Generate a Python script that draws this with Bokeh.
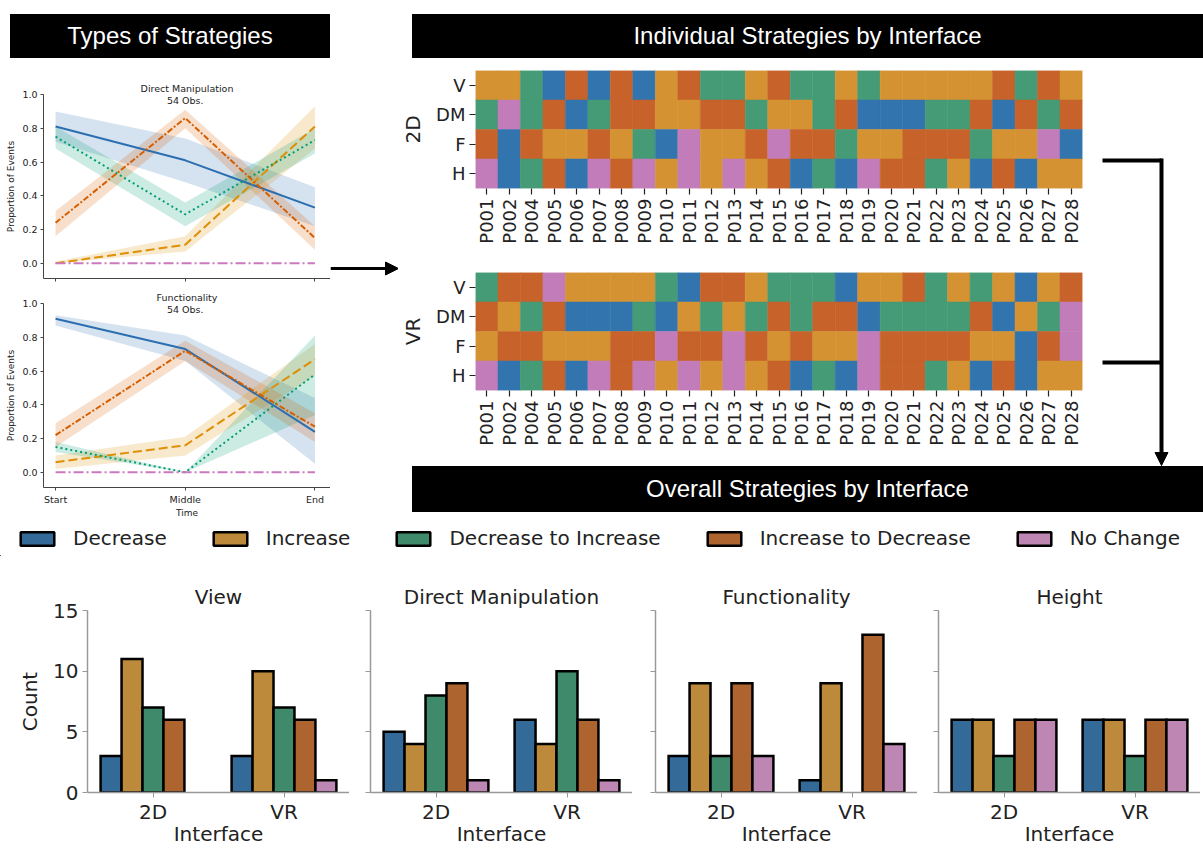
import math
from bokeh.plotting import figure
from bokeh.layouts import row, column
from bokeh.models import (Div, Spacer, ColumnDataSource, FactorRange, Range1d, FixedTicker,
                          PrintfTickFormatter, Label, Arrow, NormalHead, Legend, LegendItem, Title,
                          BoxAnnotation)
from bokeh.transform import dodge
from bokeh.embed import file_html
from bokeh.resources import INLINE

FONT = "DejaVu Sans"
BANNER_FONT = "Liberation Sans"

# ---------------- data ----------------
strategies = ["Decrease", "Increase", "Decrease to Increase", "Increase to Decrease", "No Change"]
codes = ["D", "I", "G", "R", "N"]
heat_colors = ["#3274AE", "#D49232", "#449B75", "#C6622A", "#C17CB9"]
bar_colors = ["#336A98", "#BC8A3A", "#3F8A6B", "#AD642F", "#BD86B3"]
line_colors = ["#2B6FB0", "#DE8F05", "#029E73", "#D55E00", "#CC78BC"]
line_dashes = ["solid", "9 4", "2 3", "6 2 2 2", "10 3 2 3"]

time_labels = ["Start", "Middle", "End"]

# Direct Manipulation: mean and confidence band per strategy
dm_mean = [[0.81, 0.61, 0.33], [0.00, 0.11, 0.81], [0.75, 0.29, 0.73], [0.24, 0.86, 0.15], [0.0, 0.0, 0.0]]
dm_lo = [[0.72, 0.48, 0.22], [0.00, 0.07, 0.68], [0.68, 0.22, 0.65], [0.16, 0.80, 0.08], [0.0, 0.0, 0.0]]
dm_hi = [[0.90, 0.74, 0.45], [0.01, 0.16, 0.93], [0.81, 0.36, 0.80], [0.31, 0.91, 0.22], [0.0, 0.0, 0.0]]

# Functionality
fn_mean = [[0.91, 0.73, 0.24], [0.06, 0.16, 0.67], [0.15, 0.00, 0.58], [0.22, 0.72, 0.27], [0.0, 0.0, 0.0]]
fn_lo = [[0.87, 0.66, 0.05], [0.02, 0.10, 0.57], [0.12, 0.00, 0.34], [0.15, 0.66, 0.18], [0.0, 0.0, 0.0]]
fn_hi = [[0.93, 0.81, 0.44], [0.10, 0.21, 0.76], [0.18, 0.00, 0.81], [0.29, 0.78, 0.35], [0.0, 0.0, 0.0]]

participants = ["P001", "P002", "P004", "P005", "P006", "P007", "P008", "P009", "P010",
                "P011", "P012", "P013", "P014", "P015", "P016", "P017", "P018", "P019",
                "P020", "P021", "P022", "P023", "P024", "P025", "P026", "P027", "P028"]
row_names = ["V", "DM", "F", "H"]

# D=Decrease, I=Increase, G=Decrease to Increase, R=Increase to Decrease, N=No Change
h2d_V = ["I", "I", "G", "D", "R", "D", "R", "D", "I", "R", "G", "G", "I", "R", "G", "G", "I", "G", "I", "I", "I", "I", "I", "R", "G", "R", "I"]
h2d_DM = ["G", "N", "G", "R", "D", "G", "R", "R", "I", "I", "R", "R", "G", "I", "I", "G", "R", "D", "D", "D", "G", "G", "R", "D", "R", "G", "R"]
h2d_F = ["R", "D", "R", "I", "I", "R", "I", "G", "D", "N", "I", "I", "R", "N", "R", "R", "G", "I", "I", "R", "R", "R", "G", "I", "I", "N", "D"]
h2d_H = ["N", "D", "G", "R", "D", "N", "R", "N", "I", "N", "I", "N", "I", "R", "D", "G", "D", "N", "R", "R", "G", "I", "D", "R", "D", "I", "I"]

hvr_V = ["G", "R", "R", "N", "I", "I", "I", "I", "G", "D", "R", "R", "I", "G", "G", "G", "D", "I", "I", "R", "G", "I", "G", "I", "D", "I", "R"]
hvr_DM = ["R", "I", "G", "R", "D", "D", "D", "G", "D", "I", "G", "I", "G", "R", "G", "R", "R", "D", "G", "G", "G", "G", "R", "D", "I", "G", "N"]
hvr_F = ["I", "R", "R", "I", "I", "I", "R", "R", "N", "R", "R", "N", "R", "I", "R", "I", "I", "N", "R", "R", "R", "R", "I", "I", "D", "R", "N"]
hvr_H = ["N", "D", "G", "R", "D", "N", "R", "N", "I", "N", "I", "N", "I", "R", "D", "G", "D", "N", "R", "R", "G", "I", "D", "R", "D", "I", "I"]

interfaces = ["2D", "VR"]
bar_titles = ["View", "Direct Manipulation", "Functionality", "Height"]
# counts per strategy (Decrease, Increase, Dec->Inc, Inc->Dec, No Change)
view_2d = [3, 11, 7, 6, 0]
view_vr = [3, 10, 7, 6, 1]
dm_2d = [5, 4, 8, 9, 1]
dm_vr = [6, 4, 10, 6, 1]
func_2d = [3, 9, 3, 9, 3]
func_vr = [1, 9, 0, 13, 4]
height_2d = [6, 6, 3, 6, 6]
height_vr = [6, 6, 3, 6, 6]
count_ticks = [0, 5, 10, 15]


# ---------------- helpers ----------------
def banner(text, width, height):
    return Div(text=text, width=width, height=height, margin=0,
               styles={"background-color": "black", "color": "white",
                       "font-size": "24px", "font-family": BANNER_FONT,
                       "text-align": "center", "line-height": f"{height}px"})


def blank_fig(width, height, transparent=True):
    p = figure(width=width, height=height, x_range=Range1d(0, width), y_range=Range1d(0, height),
               min_border=0, toolbar_location=None, output_backend="svg",
               x_axis_location=None, y_axis_location=None, outline_line_color=None)
    p.grid.visible = False
    if transparent:
        p.background_fill_alpha = 0
        p.border_fill_alpha = 0
    else:
        p.background_fill_color = "white"
        p.border_fill_color = "white"
    return p


def line_fig(title, subtitle, means, los, his, show_xlabels, height, top, bottom):
    p = figure(width=330, height=height, x_range=Range1d(-0.093, 2.12), y_range=Range1d(-0.09, 1.0),
               min_border_left=43, min_border_right=0, min_border_top=top, min_border_bottom=bottom,
               toolbar_location=None, output_backend="svg", outline_line_color=None)
    p.grid.visible = False
    xs = list(range(len(time_labels)))
    for i in range(len(strategies)):
        p.varea(x=xs, y1=los[i], y2=his[i], fill_color=line_colors[i], fill_alpha=0.2)
    for i in range(len(strategies)):
        p.line(x=xs, y=means[i], line_color=line_colors[i], line_width=2, line_dash=line_dashes[i])
    p.xaxis.ticker = FixedTicker(ticks=xs)
    p.yaxis.ticker = FixedTicker(ticks=[0, 0.2, 0.4, 0.6, 0.8, 1.0])
    p.yaxis.formatter = PrintfTickFormatter(format="%.1f")
    p.yaxis.axis_label = "Proportion of Events"
    for ax in p.axis:
        ax.axis_line_color = "#444444"
        ax.axis_line_width = 1
        ax.major_tick_line_color = "#444444"
        ax.major_tick_out = 3
        ax.major_tick_in = 0
        ax.minor_tick_line_color = None
        ax.major_label_text_font = FONT
        ax.major_label_text_font_size = "9.5px"
        ax.major_label_text_color = "#222222"
        ax.major_label_standoff = 3
        ax.axis_label_text_font = FONT
        ax.axis_label_text_font_size = "9px"
        ax.axis_label_text_font_style = "normal"
        ax.axis_label_text_color = "#222222"
        ax.axis_label_standoff = 3
    if show_xlabels:
        p.xaxis.major_label_overrides = {x: t for x, t in zip(xs, time_labels)}
        p.xaxis.axis_label = "Time"
        p.xaxis.axis_label_standoff = 0
    else:
        p.xaxis.major_label_overrides = {x: "" for x in xs}
    p.add_layout(Title(text=title, align="center", text_font=FONT, text_font_size="9.5px",
                       text_font_style="normal", text_color="#222222", standoff=1), "above")
    p.add_layout(Label(x=1, y=0.965, text=subtitle, text_align="center", text_baseline="middle",
                       text_font=FONT, text_font_size="9.5px", text_color="#222222"))
    return p


def heat_fig(rows, label, top, bottom):
    color_map = dict(zip(codes, heat_colors))
    xs, ys, cs = [], [], []
    for rname, vals in zip(row_names, rows):
        for pid, c in zip(participants, vals):
            xs.append(pid)
            ys.append(rname)
            cs.append(color_map[c])
    src = ColumnDataSource(dict(pid=xs, row=ys, color=cs))
    p = figure(width=702, height=top + 118 + bottom,
               x_range=FactorRange(*participants), y_range=FactorRange(*reversed(row_names)),
               min_border_left=65, min_border_right=18, min_border_top=top, min_border_bottom=bottom,
               toolbar_location=None, output_backend="svg", outline_line_color=None)
    p.grid.visible = False
    p.rect(x="pid", y="row", width=1, height=1, source=src,
           fill_color="color", line_color="color", line_width=0.5)
    for ax in p.axis:
        ax.axis_line_color = None
        ax.major_tick_out = 6
        ax.major_tick_in = 0
        ax.major_tick_line_color = "#222222"
        ax.major_tick_line_width = 1.2
        ax.major_label_text_font = FONT
        ax.major_label_text_font_size = "18px"
        ax.major_label_text_color = "#222222"
        ax.major_label_standoff = 4
    p.xaxis.major_label_orientation = math.pi / 2
    p.yaxis.axis_label = label
    p.yaxis.axis_label_text_font = FONT
    p.yaxis.axis_label_text_font_size = "20px"
    p.yaxis.axis_label_text_font_style = "normal"
    p.yaxis.axis_label_text_color = "#222222"
    p.yaxis.axis_label_standoff = 8
    return p


def bar_fig(title, c2d, cvr, left):
    fw = 262
    p = figure(width=left + fw, height=292, x_range=FactorRange(*interfaces), y_range=Range1d(0, 15),
               min_border_left=left, min_border_right=0, min_border_top=54, min_border_bottom=46,
               toolbar_location=None, output_backend="svg", outline_line_color=None)
    p.grid.visible = False
    n = len(strategies)
    bw = 0.8 / n
    for i in range(n):
        vals = [c2d[i], cvr[i]]
        xs = [f for f, v in zip(interfaces, vals) if v > 0]
        tops = [v for v in vals if v > 0]
        src = ColumnDataSource(dict(x=xs, top=tops))
        p.vbar(x=dodge("x", (i - (n - 1) / 2) * bw, range=p.x_range), top="top", width=bw,
               source=src, fill_color=bar_colors[i], line_color="black", line_width=2.5,
               line_join="miter")
    p.title.text = title
    p.title.align = "center"
    p.title.text_font = FONT
    p.title.text_font_size = "20px"
    p.title.text_font_style = "normal"
    p.title.text_color = "#222222"
    p.title.standoff = 4
    p.yaxis.ticker = FixedTicker(ticks=count_ticks)
    for ax in p.axis:
        ax.axis_line_color = "#999999"
        ax.axis_line_width = 1.5
        ax.major_tick_line_color = "#999999"
        ax.major_tick_out = 5
        ax.major_tick_in = 0
        ax.minor_tick_line_color = None
        ax.major_label_text_font = FONT
        ax.major_label_text_font_size = "20px"
        ax.major_label_text_color = "#222222"
        ax.major_label_standoff = 2
        ax.axis_label_text_font = FONT
        ax.axis_label_text_font_size = "20px"
        ax.axis_label_text_font_style = "normal"
        ax.axis_label_text_color = "#222222"
        ax.axis_label_standoff = -5
    p.xaxis.axis_label = "Interface"
    if left > 50:
        p.yaxis.axis_label = "Count"
        p.yaxis.axis_label_standoff = 8
        p.yaxis.major_label_standoff = 4
    else:
        p.yaxis.major_label_overrides = {t: "" for t in count_ticks}
    return p


# ---------------- left column ----------------
dm_fig = line_fig("Direct Manipulation", "54 Obs.", dm_mean, dm_lo, dm_hi, False, 228, 36, 8)
fn_fig = line_fig("Functionality", "54 Obs.", fn_mean, fn_lo, fn_hi, True, 234, 17, 33)
left_col = column(Spacer(width=330, height=14),
                  row(Spacer(width=10, height=44), banner("Types of Strategies", 320, 44)),
                  dm_fig, fn_fig)

# arrow between left and right
arrow_fig = blank_fig(68, 520)
arrow_fig.add_layout(Arrow(x_start=0, y_start=252, x_end=68, y_end=252, line_width=3, line_color="black",
                           end=NormalHead(size=13, fill_color="black", line_color="black")))

# ---------------- right column ----------------
heat2d = heat_fig([h2d_V, h2d_DM, h2d_F, h2d_H], "2D", 12, 74)
heatvr = heat_fig([hvr_V, hvr_DM, hvr_F, hvr_H], "VR", 10, 76)

bracket = blank_fig(103, 408)
bracket.add_layout(Arrow(x_start=2, y_start=306, x_end=61, y_end=306, line_width=4, line_color="black", end=None))
bracket.add_layout(Arrow(x_start=2, y_start=104, x_end=61, y_end=104, line_width=4, line_color="black", end=None))
bracket.add_layout(Arrow(x_start=61, y_start=308, x_end=61, y_end=1, line_width=4, line_color="black",
                         end=NormalHead(size=13, fill_color="black", line_color="black")))

right_col = column(Spacer(width=805, height=14),
                   row(Spacer(width=14, height=44), banner("Individual Strategies by Interface", 791, 44)),
                   row(column(heat2d, heatvr), bracket),
                   row(Spacer(width=14, height=46), banner("Overall Strategies by Interface", 791, 46)),
                   Spacer(width=805, height=8))

top_section = row(left_col, arrow_fig, right_col)

# ---------------- legend ----------------
leg_fig = blank_fig(1203, 36, transparent=False)
items = []
for s, c in zip(strategies, bar_colors):
    # dummy renderer placed far outside the visible range; only its legend glyph is shown
    r = leg_fig.vbar(x=[-5000], top=[-5000], bottom=-5001, width=1,
                     fill_color=c, line_color="black", line_width=2.5)
    items.append(LegendItem(label=s, renderers=[r]))
legend = Legend(items=items, orientation="horizontal", location=(16, 6), padding=0, margin=0,
                spacing=42, label_standoff=15, glyph_width=42, glyph_height=17,
                label_text_font=FONT, label_text_font_size="20px", label_text_color="#222222",
                border_line_color=None, background_fill_alpha=0, title=None)
leg_fig.add_layout(legend)
leg_fig.add_layout(BoxAnnotation(left=0, right=12, bottom=0, top=36, fill_color="white", fill_alpha=1,
                                 line_color=None, level="overlay"))

# ---------------- bar charts ----------------
b1 = bar_fig(bar_titles[0], view_2d, view_vr, 87)
b2 = bar_fig(bar_titles[1], dm_2d, dm_vr, 21)
b3 = bar_fig(bar_titles[2], func_2d, func_vr, 23)
b4 = bar_fig(bar_titles[3], height_2d, height_vr, 21)

page = column(top_section, leg_fig, row(b1, b2, b3, b4))

open("out.html", "w").write(file_html(page, INLINE))
